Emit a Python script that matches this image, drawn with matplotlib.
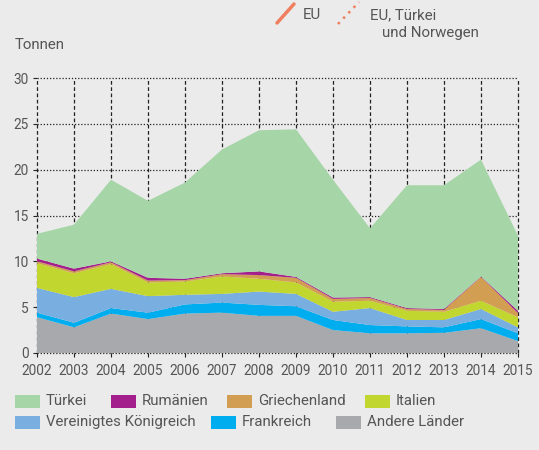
import matplotlib
matplotlib.use("Agg")
import matplotlib.pyplot as plt
from matplotlib.patches import Rectangle
from matplotlib.lines import Line2D

years = list(range(2002, 2016))
andere = [3.9, 2.8, 4.3, 3.7, 4.3, 4.4, 4.05, 4.05, 2.5, 2.15, 2.15, 2.2, 2.7, 1.3]
frankreich = [0.5, 0.5, 0.6, 0.7, 1.0, 1.1, 1.2, 1.05, 1.1, 0.9, 0.75, 0.6, 1.0, 0.85]
vk = [2.7, 2.8, 2.1, 1.8, 1.05, 0.95, 1.45, 1.35, 0.9, 1.85, 0.7, 0.8, 1.1, 0.65]
italien = [2.7, 2.6, 2.7, 1.5, 1.45, 1.9, 1.4, 1.25, 1.1, 0.8, 1.0, 0.9, 0.9, 1.1]
griechenland = [0.2, 0.2, 0.2, 0.2, 0.15, 0.25, 0.4, 0.5, 0.3, 0.3, 0.2, 0.2, 2.6, 0.45]
rumaenien = [0.3, 0.3, 0.1, 0.3, 0.15, 0.1, 0.4, 0.1, 0.15, 0.1, 0.1, 0.1, 0.05, 0.25]
tuerkei = [2.7, 4.8, 8.9, 8.4, 10.5, 13.5, 15.4, 16.1, 12.85, 7.5, 13.4, 13.5, 12.75, 8.2]

series = [andere, frankreich, vk, italien, griechenland, rumaenien, tuerkei]
names = ["Andere Länder", "Frankreich", "Vereinigtes Königreich", "Italien",
         "Griechenland", "Rumänien", "Türkei"]
colors = ["#a7a9ac", "#00aeef", "#78aee0", "#c2d630", "#d29e52", "#a3208c", "#a6d5a8"]

yticks = [0, 5, 10, 15, 20, 25, 30]

BG = "#ebebeb"
TXT = "#555555"
plt.rcParams['font.family'] = ['Roboto', 'DejaVu Sans']

fig = plt.figure(figsize=(5.39, 4.5), dpi=100, facecolor=BG)
ax = fig.add_axes([37/539, 1-353/450, (518-37)/539, (353-78)/450])
ax.set_facecolor(BG)

ax.stackplot(years, *series, colors=colors, linewidth=0, zorder=2)

ax.set_xlim(2002, 2015)
ax.set_ylim(0, 30)
ax.set_xticks(years)
ax.set_yticks(yticks)
for y in yticks:
    ax.axhline(y, color="#222222", lw=0.9, ls=(0, (1, 1.5)), zorder=1, clip_on=False)
for x in years:
    ax.axvline(x, color="#222222", lw=0.9, ls=(0, (3, 2)), zorder=1, clip_on=False)
for s in ax.spines.values():
    s.set_visible(False)
ax.tick_params(axis="both", colors="#222222", labelcolor=TXT, labelsize=9.8,
               length=3, width=0.8)
ax.tick_params(axis="x", pad=5)
ax.tick_params(axis="y", pad=3)

fig.text(15/539, 1-45/450, "Tonnen", fontsize=10.8, color=TXT, va="center")

# header key
fig.add_artist(Line2D([277/539, 294/539], [1-23/450, 1-4/450], color="#f07f5f",
                      lw=2.5, solid_capstyle="round"))
fig.text(303/539, 1-15/450, "EU", fontsize=10.8, color=TXT, va="center")
fig.add_artist(Line2D([338/539, 359/539], [1-24/450, 1-2/450], color="#f07f5f",
                      lw=1.8, ls=(0, (1, 2))))
fig.text(370/539, 1-15/450, "EU, Türkei", fontsize=10.8, color=TXT, va="center")
fig.text(382/539, 1-33/450, "und Norwegen", fontsize=10.8, color=TXT, va="center")

# bottom legend
leg = [("Türkei", 15, 401), ("Rumänien", 111, 401), ("Griechenland", 227, 401),
       ("Italien", 365, 401), ("Vereinigtes Königreich", 15, 422),
       ("Frankreich", 211, 422), ("Andere Länder", 336, 422)]
for name, x0, yc in leg:
    c = colors[names.index(name)]
    fig.add_artist(Rectangle((x0/539, 1-(yc+7)/450), 25/539, 13/450,
                             facecolor=c, edgecolor="none", transform=fig.transFigure))
    fig.text((x0+31)/539, 1-yc/450, name, fontsize=10.8, color=TXT, va="center")

fig.savefig("out.png", dpi=100, facecolor=BG)
